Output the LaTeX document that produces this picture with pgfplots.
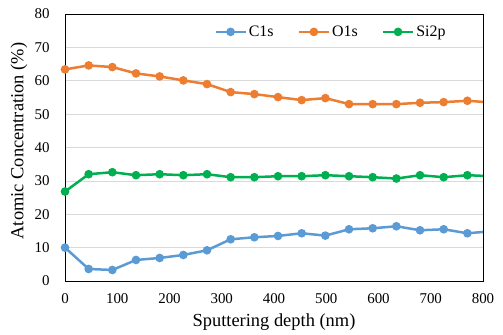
\documentclass[border=0pt]{standalone}
\usepackage{pgfplots}
\pgfplotsset{compat=1.18}
\usepackage{fontspec}
\setmainfont{Liberation Serif}
\definecolor{cC}{HTML}{5B9BD5}
\definecolor{cO}{HTML}{ED7D31}
\definecolor{cS}{HTML}{00B050}
\definecolor{gridc}{HTML}{D9D9D9}
\begin{document}
\begin{tikzpicture}
\path[use as bounding box] (-65bp,-54bp) rectangle (438bp,281bp);
\begin{axis}[
  at={(0,0)}, anchor=south west,
  scale only axis, width=418bp, height=267bp,
  xmin=0, xmax=800, ymin=0, ymax=80,
  xtick={0,100,...,800}, ytick={0,10,...,80},
  major tick length=0pt,
  ymajorgrids, grid style={gridc, line width=0.75bp},
  axis line style={black, line width=0.8bp},
  /pgf/number format/assume math mode=true,
  tick label style={font=\fontsize{15}{18}\selectfont},
  xticklabel style={yshift=-9bp},
  yticklabel style={xshift=-12bp},
  xlabel={Sputtering depth (nm)},
  ylabel={Atomic Concentration (\%)},
  label style={font=\fontsize{18.5}{22}\selectfont},
  xlabel style={at={(axis description cs:0.5,-0.1536)}, anchor=center},
  ylabel style={at={(axis description cs:-0.110,0.524)}, anchor=center, rotate=0},
  every axis plot/.append style={line width=2.5bp, mark=*, mark size=3bp, mark options={solid}},
  legend columns=3,
  legend style={at={(axis description cs:0.352,0.933)}, anchor=west, draw=none, fill=white,
    font=\fontsize{16}{19}\selectfont, /tikz/every even column/.append style={column sep=22bp},
    inner sep=2bp},
  legend image code/.code={\draw[mark repeat=2,mark phase=2,#1] plot coordinates {(0bp,0bp) (15bp,0bp) (30bp,0bp)};},
]
\addplot[cC] coordinates {(0,10.0) (45.3,3.6) (90.6,3.3) (135.9,6.3) (181.2,6.9) (226.5,7.8) (271.8,9.2) (317.1,12.5) (362.4,13.1) (407.7,13.5) (453,14.3) (498.3,13.6) (543.6,15.5) (588.9,15.8) (634.2,16.4) (679.5,15.2) (724.8,15.5) (770.1,14.3) (815.4,14.9)};
\addlegendentry{C1s}
\addplot[cO] coordinates {(0,63.4) (45.3,64.6) (90.6,64.1) (135.9,62.2) (181.2,61.3) (226.5,60.1) (271.8,59.0) (317.1,56.6) (362.4,56.0) (407.7,55.1) (453,54.2) (498.3,54.8) (543.6,53.0) (588.9,53.0) (634.2,53.0) (679.5,53.4) (724.8,53.6) (770.1,54.0) (815.4,53.5)};
\addlegendentry{O1s}
\addplot[cS] coordinates {(0,26.8) (45.3,32.0) (90.6,32.6) (135.9,31.7) (181.2,32.0) (226.5,31.7) (271.8,32.0) (317.1,31.1) (362.4,31.1) (407.7,31.4) (453,31.4) (498.3,31.7) (543.6,31.4) (588.9,31.1) (634.2,30.7) (679.5,31.7) (724.8,31.1) (770.1,31.7) (815.4,31.4)};
\addlegendentry{Si2p}
\end{axis}
\end{tikzpicture}
\end{document}
